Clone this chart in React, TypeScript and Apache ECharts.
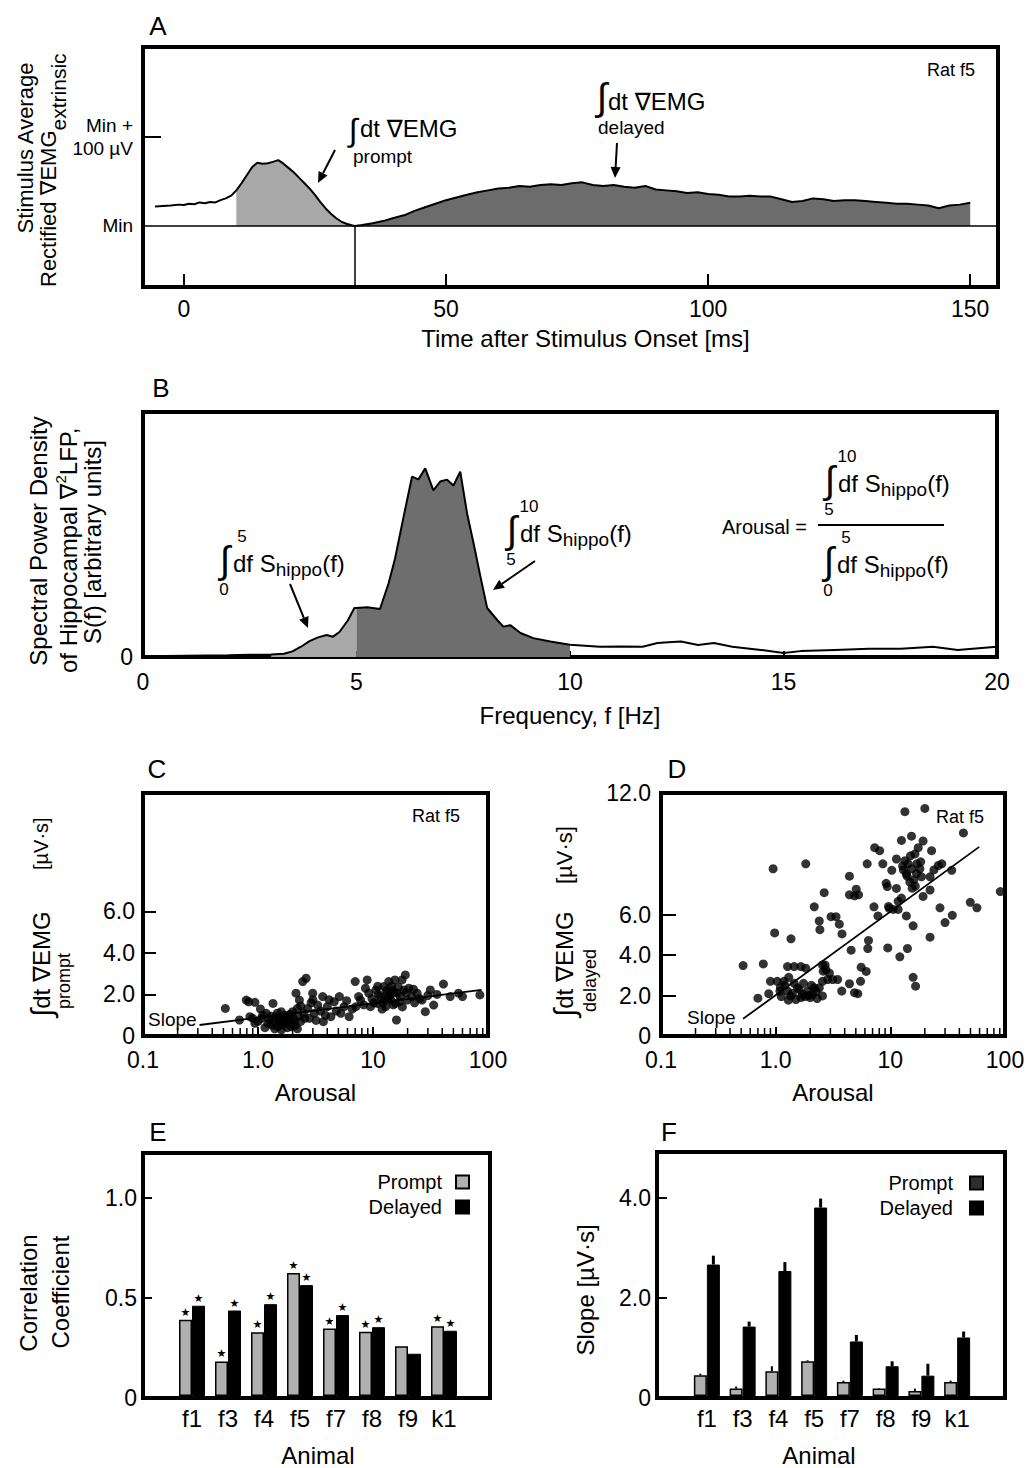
import React, { useEffect, useRef } from "react";
import * as echarts from "echarts";

const FONT = "'Liberation Sans', Arial, Helvetica, 'DejaVu Sans', sans-serif";

// ---------- Panel A: stimulus-averaged rectified EMG (value above Min, µV) ----------
const emgTrace: number[][] = [
  [-5.5, 22], [-4, 22.5], [-2.5, 23], [-1, 24], [0, 23.5], [1, 25], [2, 24.5], [3, 26.5], [4, 25.5],
  [5, 27], [6, 26.5], [7, 29], [8, 31], [9, 34], [10, 40], [11, 48], [12, 57], [13, 66], [14, 71],
  [15, 70], [16, 70.5], [17, 72], [18, 74], [19, 70], [20, 65], [21, 60], [22, 54], [23, 48], [24, 42],
  [25, 35], [26, 27], [27, 20], [28, 14], [29, 9], [30, 5], [31, 2.5], [32, 0.8], [32.6, 0],
  [34, 1], [36, 3], [38, 5.5], [40, 9], [42, 12], [44, 17], [46, 21], [48, 25], [50, 29], [52, 32],
  [54, 35], [56, 38], [58, 40], [60, 42], [62, 43], [64, 45], [66, 44], [68, 46], [70, 47], [72, 46],
  [74, 48], [76, 49], [78, 46], [80, 45], [82, 46], [84, 44], [86, 43], [88, 45], [90, 41], [92, 40],
  [94, 39], [96, 37], [98, 38], [100, 36], [102, 35], [104, 33], [106, 33], [108, 34], [110, 33], [112, 33],
  [114, 30], [116, 27], [118, 28], [120, 31], [122, 30], [124, 28], [126, 29], [128, 29], [130, 28], [132, 27],
  [134, 26], [136, 25], [138, 25], [140, 24], [142, 23], [144, 20], [146, 23], [148, 24], [150, 26],
];
const promptWindow = [10, 32.6];
const delayedWindow = [32.6, 150];
const emgMinTime = 32.6;
const timeTicks = [0, 50, 100, 150];
const emgLabelValues = [0, 100];

// ---------- Panel B: hippocampal spectral power density ----------
const psdTrace: number[][] = [
  [0, 0.3], [0.5, 0.4], [1, 0.5], [1.5, 0.6], [2, 0.7], [2.5, 0.9], [3, 1.0], [3.3, 1.3], [3.5, 2.3],
  [3.7, 4.2], [3.9, 6.5], [4.1, 8.0], [4.3, 9.0], [4.45, 8.3], [4.6, 10.2], [4.8, 15], [4.95, 20], [5.0, 20],
  [5.25, 20.3], [5.55, 19.6], [5.75, 30], [5.9, 40], [6.1, 57], [6.3, 73.6], [6.45, 72.5], [6.61, 77],
  [6.8, 68], [6.96, 71.6], [7.12, 72.4], [7.27, 70], [7.43, 75.6], [7.59, 58.6], [7.74, 46.5], [7.9, 33],
  [8.06, 20], [8.3, 15], [8.44, 12.4], [8.6, 13], [8.84, 9.8], [9.14, 7.7], [9.54, 6.3], [10.0, 5.0],
  [10.7, 4.2], [11.2, 4.3], [11.7, 4.2], [12.05, 5.7], [12.3, 6.0], [12.6, 6.3], [13.0, 4.9], [13.37, 5.7],
  [13.8, 4.2], [14.47, 2.9], [15.0, 1.6], [15.4, 2.4], [16.2, 2.9], [17.0, 3.4], [17.75, 3.4], [18.5, 4.2],
  [19.08, 2.9], [19.5, 3.5], [20, 4.2],
];
const lowBand = [3.0, 5];
const thetaBand = [5, 10];
const freqTicks = 5;

// ---------- Panel C: prompt EMG vs arousal ----------
const promptPoints: number[][] = [
  [0.52, 1.33], [0.69, 0.77], [0.79, 1.73], [0.83, 1.65], [0.94, 1.62], [0.85, 0.93], [0.94, 0.61], [0.9, 0.85],
  [1.0, 0.7], [1.07, 0.85], [1.1, 1.0], [1.18, 1.09], [1.22, 0.61], [1.25, 0.8], [1.3, 0.95], [1.35, 1.57],
  [1.32, 0.53], [1.38, 0.7], [1.4, 0.35], [1.44, 0.93], [1.47, 1.1], [1.49, 0.45], [1.52, 0.7], [1.55, 0.9],
  [1.59, 1.17], [1.62, 0.55], [1.64, 0.69], [1.68, 0.8], [1.72, 1.0], [1.76, 0.61], [1.8, 0.4], [1.82, 0.93],
  [1.86, 0.75], [1.9, 1.05], [1.94, 0.45], [1.97, 0.6], [2.0, 1.17], [2.03, 0.85], [2.07, 0.69], [2.1, 0.5],
  [2.14, 2.06], [2.2, 1.33], [2.25, 0.95], [2.29, 1.73], [2.35, 0.7], [2.45, 2.62], [2.5, 1.1], [2.55, 0.85],
  [2.62, 2.78], [2.7, 1.33], [2.8, 0.85], [2.9, 1.6], [2.99, 2.06], [3.09, 1.09], [3.2, 0.75], [3.3, 1.49],
  [3.5, 1.2], [3.65, 1.9], [3.7, 0.69], [3.85, 1.0], [4.0, 1.41], [4.15, 1.75], [4.3, 0.93], [4.6, 1.65],
  [4.8, 1.2], [5.1, 1.9], [5.25, 1.09], [5.6, 1.41], [5.9, 1.7], [6.2, 0.93], [6.6, 1.3], [7.0, 2.62],
  [7.1, 1.41], [7.5, 1.9], [7.8, 1.73], [8.3, 1.5], [8.9, 2.7], [9.2, 2.06], [9.5, 1.41], [9.8, 1.8],
  [10.2, 1.6], [10.6, 2.22], [10.9, 1.57], [11.2, 2.0], [11.6, 1.9], [12.0, 1.3], [12.4, 2.38], [12.7, 1.75],
  [12.9, 1.41], [13.1, 2.2], [13.3, 2.06], [13.5, 1.8], [13.7, 2.62], [14.0, 1.95], [14.3, 1.73], [14.5, 2.4],
  [14.7, 2.22], [15.0, 1.5], [15.3, 2.1], [15.7, 1.57], [16.0, 0.77], [16.2, 2.06], [16.6, 2.35], [17.0, 1.65],
  [17.3, 1.9], [17.9, 2.7], [18.6, 2.22], [19.1, 2.94], [19.4, 2.1], [19.8, 1.73], [20.5, 2.3], [21.8, 1.9],
  [23.0, 1.6], [24.2, 2.06], [25.5, 1.8], [26.7, 1.73], [28.5, 1.17], [30.0, 1.95], [31.5, 2.22], [33.7, 1.49],
  [36.0, 2.0], [41, 2.5], [46.9, 1.9], [55.4, 2.06], [60, 1.9], [85, 1.98], [1.15, 0.4], [1.6, 0.3],
  [2.2, 0.35], [1.05, 1.3], [2.35, 1.45], [8.6, 2.3], [11.0, 2.4], [15.5, 2.7], [18.0, 1.4], [22.5, 2.25],
  [3.0, 1.75], [12.2, 1.6],
];
const promptFit: number[][] = [[0.31, 0.53], [88, 2.22]];

// ---------- Panel D: delayed EMG vs arousal ----------
const delayedPoints: number[][] = [
  [0.52, 3.48], [0.78, 3.56], [0.70, 1.87], [0.87, 2.09], [0.95, 8.26], [0.98, 5.09], [0.9, 2.7], [1.03, 2.7],
  [1.1, 2.4], [1.18, 2.7], [1.09, 2.22], [1.27, 2.22], [1.35, 1.98], [1.29, 1.77], [1.36, 4.8], [1.27, 3.43],
  [1.45, 3.43], [1.66, 3.43], [1.83, 3.35], [1.55, 2.38], [1.71, 2.06], [1.66, 1.9], [1.9, 2.22], [2.0, 1.9],
  [2.17, 2.38], [2.1, 2.06], [2.4, 2.38], [2.56, 1.98], [2.56, 2.7], [1.83, 8.5], [2.17, 6.38], [2.4, 5.68],
  [2.43, 5.25], [2.65, 7.08], [2.56, 3.51], [2.74, 3.27], [2.94, 3.11], [2.84, 2.79], [3.14, 2.79], [3.47, 2.79],
  [3.04, 5.89], [3.36, 5.89], [3.59, 5.52], [3.79, 5.04], [3.77, 2.22], [4.4, 7.89], [4.4, 6.97], [4.87, 6.92],
  [5.28, 6.97], [5.04, 7.25], [4.55, 4.24], [4.4, 2.58], [4.87, 2.14], [5.2, 2.09], [5.5, 2.7], [5.57, 3.4],
  [6.16, 3.19], [6.28, 8.5], [6.36, 4.32], [6.45, 4.72], [7.2, 6.38], [7.3, 9.3], [8.07, 9.15], [7.8, 5.93],
  [8.6, 8.5], [9.2, 7.54], [9.4, 7.38], [9.65, 6.4], [10.6, 6.25], [11.7, 6.25], [9.5, 4.35], [10.3, 8.18],
  [11.3, 8.74], [11.3, 7.29], [11.7, 6.65], [12.5, 6.81], [12.1, 3.91], [12.5, 9.66], [13.4, 11.08], [13.4, 8.66],
  [13.8, 5.93], [14.1, 4.32], [14.3, 8.5], [15.3, 8.26], [15.3, 9.87], [15.8, 2.9], [15.8, 5.44], [16.6, 2.46],
  [16.4, 8.99], [16.9, 8.02], [18.1, 8.26], [18.7, 7.86], [19.3, 9.63], [20.0, 11.24], [19.3, 6.89], [22.9, 9.15],
  [22.2, 7.86], [22.2, 7.21], [22.2, 4.88], [26.2, 8.42], [28.1, 8.5], [27.1, 6.33], [30, 5.6], [34.3, 8.18],
  [34.7, 5.96], [43.4, 10.03], [49.8, 6.6], [56.9, 6.33], [91, 7.13], [1.2, 2.5], [1.4, 2.1], [1.5, 1.8],
  [1.6, 2.3], [1.75, 2.6], [1.95, 2.0], [2.05, 2.5], [2.25, 2.2], [1.3, 2.9], [1.45, 2.6], [2.3, 1.85],
  [2.7, 3.5], [2.6, 3.2], [1.12, 1.95], [1.8, 1.95], [13.0, 8.2], [14.0, 7.9], [14.8, 7.6], [15.0, 8.9],
  [16.0, 7.7], [17.0, 8.5], [17.5, 9.3], [16.5, 7.4], [13.8, 8.0], [12.8, 8.4], [18.4, 8.6], [15.5, 7.3],
  [9.8, 6.3], [24, 8.2],
];
const delayedFit: number[][] = [[0.52, 0.85], [59.6, 9.34]];
const logMinorTicks = [0.2, 0.3, 0.4, 0.5, 0.6, 0.7, 0.8, 0.9, 2, 3, 4, 5, 6, 7, 8, 9, 20, 30, 40, 50, 60, 70, 80, 90];

// ---------- Panel E: correlation coefficients ----------
const animals = ["f1", "f3", "f4", "f5", "f7", "f8", "f9", "k1"];
const corrPrompt = [0.385, 0.174, 0.322, 0.62, 0.34, 0.324, 0.251, 0.352];
const corrDelayed = [0.455, 0.431, 0.463, 0.559, 0.408, 0.347, 0.213, 0.329];
const corrPromptSig = [true, true, true, true, true, true, false, true];
const corrDelayedSig = [true, true, true, true, true, true, false, true];

// ---------- Panel F: slopes ----------
const slopePrompt = [0.42, 0.15, 0.5, 0.7, 0.28, 0.15, 0.1, 0.28];
const slopePromptErr = [0.03, 0.04, 0.1, 0.02, 0.03, 0.01, 0.05, 0.03];
const slopeDelayed = [2.65, 1.4, 2.52, 3.8, 1.1, 0.6, 0.41, 1.18];
const slopeDelayedErr = [0.18, 0.1, 0.18, 0.18, 0.13, 0.1, 0.24, 0.12];

// ---------- helpers ----------
const seg = (trace: number[][], lo: number, hi: number) => trace.filter((p) => p[0] >= lo && p[0] <= hi);

const t = (x: number, y: number, text: string, size: number, align = "left", extra: any = {}) => ({
  type: "text",
  x,
  y,
  silent: true,
  z: 20,
  style: { text, fontSize: size, fontFamily: FONT, fill: "#000", align, verticalAlign: "middle", ...extra },
});

const rot = (x: number, y: number, children: any[]) => ({ type: "group", x, y, rotation: Math.PI / 2, children, z: 20 });

const arrow = (x1: number, y1: number, x2: number, y2: number) => {
  const a = Math.atan2(y2 - y1, x2 - x1);
  const hl = 11, hw = 5;
  const bx = x2 - hl * Math.cos(a), by = y2 - hl * Math.sin(a);
  const px = -Math.sin(a) * hw, py = Math.cos(a) * hw;
  return {
    type: "group",
    z: 20,
    children: [
      { type: "line", silent: true, shape: { x1, y1, x2: bx, y2: by }, style: { stroke: "#000", lineWidth: 2 } },
      { type: "polygon", silent: true, shape: { points: [[x2, y2], [bx + px, by + py], [bx - px, by - py]] }, style: { fill: "#000" } },
    ],
  };
};

const shippo = (x0: number, y0: number, up: string, low: string) => [
  t(x0 - 8, y0 - 3, "∫", 38, "center"),
  t(x0 + 9, y0 - 27, up, 17, "center"),
  t(x0 - 9, y0 + 26, low, 17, "center"),
  t(x0, y0, "{m|df S}{s|hippo}{m|(f)}", 24, "left", {
    rich: {
      m: { fontSize: 24, lineHeight: 32, fontFamily: FONT },
      s: { fontSize: 19, lineHeight: 19, verticalAlign: "bottom", fontFamily: FONT },
    },
  }),
];

const tickLabel = { color: "#000", fontFamily: FONT, fontSize: 23 };
const nameStyle = { color: "#000", fontFamily: FONT, fontSize: 24 };
const noSplit = { show: false };
const noLine = { show: false, onZero: false };
const tickStyle = { color: "#000", width: 2 };
const frame = { show: true, borderColor: "#000", borderWidth: 4, backgroundColor: "transparent" };
const logLabel = (v: number) => {
  const e = Math.round(Math.log10(v));
  return e === -1 ? "0.1" : e === 0 ? "1.0" : e === 1 ? "10" : "100";
};
const decLabel = (v: number) => (v === 0 ? "0" : v.toFixed(1));

const minorTickSeries = (axis: number) => ({
  type: "custom",
  name: "minor" + axis,
  xAxisIndex: axis,
  yAxisIndex: axis,
  silent: true,
  z: 6,
  data: logMinorTicks.map((v) => [v, 0]),
  renderItem: (_p: any, api: any) => {
    const c = api.coord([api.value(0), 0]);
    return { type: "line", shape: { x1: c[0], y1: c[1] - 2, x2: c[0], y2: c[1] - 8 }, style: { stroke: "#000", lineWidth: 1.5 } };
  },
});

const errSeries = (name: string, vals: number[], errs: number[], offset: number, width: number) => ({
  type: "custom",
  name,
  xAxisIndex: 7,
  yAxisIndex: 7,
  silent: true,
  z: 6,
  data: vals.map((v, i) => [i, v, errs[i]]),
  renderItem: (_p: any, api: any) => {
    const i = api.value(0), v = api.value(1), e = api.value(2);
    const p0 = api.coord([i, v]);
    const p1 = api.coord([i, v + e]);
    const x = p0[0] + offset;
    return { type: "line", shape: { x1: x, y1: p0[1], x2: x, y2: p1[1] }, style: { stroke: "#000", lineWidth: width } };
  },
});

const starLabel = (sig: boolean[]) => ({
  show: true,
  position: "top",
  distance: 2,
  fontSize: 11,
  color: "#000",
  fontFamily: "'DejaVu Sans', sans-serif",
  formatter: (p: any) => (sig[p.dataIndex] ? "★" : ""),
});

function buildOption(): any {
  const lineOnly = (name: string, x: number, data: number[][], width = 2) => ({
    type: "line",
    name,
    xAxisIndex: x,
    yAxisIndex: x,
    data,
    symbol: "none",
    lineStyle: { color: "#000", width },
    z: 4,
  });
  const area = (name: string, x: number, data: number[][], color: string) => ({
    type: "line",
    name,
    xAxisIndex: x,
    yAxisIndex: x,
    data,
    symbol: "none",
    lineStyle: { width: 0, color },
    areaStyle: { color, opacity: 1 },
    z: 2,
  });

  return {
    animation: false,
    backgroundColor: "#fff",
    grid: [
      { left: 143, top: 47, width: 855, height: 240, ...frame },
      { left: 143, top: 412, width: 854, height: 245, ...frame },
      { left: 143, top: 793, width: 345, height: 243, ...frame },
      { left: 661, top: 793, width: 344, height: 243, ...frame },
      { left: 143, top: 1153, width: 347, height: 245, ...frame },
      { left: 174, top: 1153, width: 288, height: 245, show: false },
      { left: 657, top: 1152, width: 348, height: 246, ...frame },
      { left: 689, top: 1152, width: 286, height: 246, show: false },
    ],
    xAxis: [
      {
        gridIndex: 0, type: "value", min: -7.8, max: 155.3, axisLine: noLine, splitLine: noSplit,
        axisTick: { show: true, inside: true, length: 13, customValues: timeTicks, lineStyle: tickStyle },
        axisLabel: { ...tickLabel, margin: 10, customValues: timeTicks },
        name: "Time after Stimulus Onset [ms]", nameLocation: "middle", nameGap: 39,
        nameTextStyle: { ...nameStyle, padding: [0, 0, 0, 30] },
      },
      {
        gridIndex: 1, type: "value", min: 0, max: 20, interval: freqTicks, axisLine: noLine, splitLine: noSplit,
        axisTick: { show: true, inside: true, length: 6, lineStyle: tickStyle },
        axisLabel: { ...tickLabel, margin: 13 },
        name: "Frequency, f [Hz]", nameLocation: "middle", nameGap: 46, nameTextStyle: nameStyle,
      },
      {
        gridIndex: 2, type: "log", logBase: 10, min: 0.1, max: 100, axisLine: noLine, splitLine: noSplit,
        minorTick: { show: false }, minorSplitLine: { show: false },
        axisTick: { show: true, inside: true, length: 9, lineStyle: tickStyle },
        axisLabel: { ...tickLabel, margin: 12, formatter: logLabel },
        name: "Arousal", nameLocation: "middle", nameGap: 44, nameTextStyle: nameStyle,
      },
      {
        gridIndex: 3, type: "log", logBase: 10, min: 0.1, max: 100, axisLine: noLine, splitLine: noSplit,
        minorTick: { show: false }, minorSplitLine: { show: false },
        axisTick: { show: true, inside: true, length: 9, lineStyle: tickStyle },
        axisLabel: { ...tickLabel, margin: 12, formatter: logLabel },
        name: "Arousal", nameLocation: "middle", nameGap: 44, nameTextStyle: nameStyle,
      },
      { gridIndex: 4, type: "value", show: false, min: 0, max: 1, axisLine: noLine },
      {
        gridIndex: 5, type: "category", data: animals, axisLine: noLine, axisTick: { show: false }, splitLine: noSplit,
        axisLabel: { ...tickLabel, fontSize: 24, margin: 10, interval: 0 },
        name: "Animal", nameLocation: "middle", nameGap: 47, nameTextStyle: nameStyle,
      },
      { gridIndex: 6, type: "value", show: false, min: 0, max: 1, axisLine: noLine },
      {
        gridIndex: 7, type: "category", data: animals, axisLine: noLine, axisTick: { show: false }, splitLine: noSplit,
        axisLabel: { ...tickLabel, fontSize: 24, margin: 10, interval: 0 },
        name: "Animal", nameLocation: "middle", nameGap: 47, nameTextStyle: { ...nameStyle, padding: [0, 26, 0, 0] },
      },
    ],
    yAxis: [
      {
        gridIndex: 0, type: "value", min: -68.5, max: 201, axisLine: noLine, splitLine: noSplit,
        axisTick: { show: true, inside: true, length: 18, customValues: [100], lineStyle: tickStyle },
        axisLabel: {
          color: "#000", fontFamily: FONT, fontSize: 19, lineHeight: 23, margin: 10, customValues: emgLabelValues,
          formatter: (v: number) => (v === 0 ? "Min" : "Min +\n100 µV"),
        },
      },
      {
        gridIndex: 1, type: "value", min: 0, max: 100, axisLine: noLine, splitLine: noSplit, axisTick: { show: false },
        axisLabel: { ...tickLabel, margin: 10, customValues: [0], formatter: () => "0" },
      },
      {
        gridIndex: 2, type: "value", min: 0, max: 11.7, axisLine: noLine, splitLine: noSplit,
        axisTick: { show: true, inside: true, length: 13, customValues: [2, 4, 6], lineStyle: tickStyle },
        axisLabel: { ...tickLabel, margin: 8, customValues: [0, 2, 4, 6], formatter: decLabel },
      },
      {
        gridIndex: 3, type: "value", min: 0, max: 12, axisLine: noLine, splitLine: noSplit,
        axisTick: { show: true, inside: true, length: 15, customValues: [2, 4, 6], lineStyle: tickStyle },
        axisLabel: { ...tickLabel, margin: 10, customValues: [0, 2, 4, 6, 12], formatter: decLabel },
      },
      {
        gridIndex: 4, type: "value", min: 0, max: 1.225, axisLine: noLine, splitLine: noSplit,
        axisTick: { show: true, inside: true, length: 9, customValues: [0.5, 1], lineStyle: tickStyle },
        axisLabel: { ...tickLabel, margin: 6, customValues: [0, 0.5, 1], formatter: decLabel },
      },
      { gridIndex: 5, type: "value", min: 0, max: 1.225, show: false, splitLine: noSplit, axisLine: noLine },
      {
        gridIndex: 6, type: "value", min: 0, max: 4.92, axisLine: noLine, splitLine: noSplit,
        axisTick: { show: true, inside: true, length: 10, customValues: [2, 4], lineStyle: tickStyle },
        axisLabel: { ...tickLabel, margin: 6, customValues: [0, 2, 4], formatter: decLabel },
      },
      { gridIndex: 7, type: "value", min: 0, max: 4.92, show: false, splitLine: noSplit, axisLine: noLine },
    ],
    legend: [
      {
        data: ["Prompt", "Delayed"], orient: "vertical", right: 556, top: 1167, align: "right",
        itemWidth: 13, itemHeight: 13, itemGap: 5, icon: "rect", selectedMode: false,
        textStyle: { color: "#000", fontFamily: FONT, fontSize: 20, padding: [0, 9, 0, 0] },
      },
      {
        data: [{ name: "Prompt", itemStyle: { color: "#2e2e2e", borderColor: "#000" } }, "Delayed"],
        orient: "vertical", right: 42, top: 1168, align: "right",
        itemWidth: 13, itemHeight: 13, itemGap: 5, icon: "rect", selectedMode: false,
        textStyle: { color: "#000", fontFamily: FONT, fontSize: 20, padding: [0, 12, 0, 0] },
      },
    ],
    series: [
      // A
      area("emgPromptArea", 0, seg(emgTrace, promptWindow[0], promptWindow[1]), "#a8a8a8"),
      area("emgDelayedArea", 0, seg(emgTrace, delayedWindow[0], delayedWindow[1]), "#6c6c6c"),
      {
        ...lineOnly("emg", 0, emgTrace),
        markLine: {
          silent: true,
          symbol: ["none", "none"],
          label: { show: false },
          lineStyle: { color: "#000", width: 1.5, type: "solid" },
          data: [{ yAxis: 0 }, [{ coord: [emgMinTime, 0] }, { coord: [emgMinTime, -68.5] }]],
        },
      },
      // B
      area("psdLowArea", 1, seg(psdTrace, lowBand[0], lowBand[1]), "#a8a8a8"),
      area("psdThetaArea", 1, seg(psdTrace, thetaBand[0], thetaBand[1]), "#6e6e6e"),
      lineOnly("psd", 1, psdTrace),
      // C
      { type: "scatter", name: "promptPts", xAxisIndex: 2, yAxisIndex: 2, data: promptPoints, symbolSize: 9, itemStyle: { color: "#000" }, z: 3 },
      lineOnly("promptFit", 2, promptFit, 1.8),
      minorTickSeries(2),
      // D
      { type: "scatter", name: "delayedPts", xAxisIndex: 3, yAxisIndex: 3, data: delayedPoints, symbolSize: 9, itemStyle: { color: "#000" }, z: 3 },
      lineOnly("delayedFit", 3, delayedFit, 1.8),
      minorTickSeries(3),
      // E
      {
        type: "bar", name: "Prompt", xAxisIndex: 5, yAxisIndex: 5, data: corrPrompt, barWidth: 13, barGap: "0%",
        itemStyle: { color: "#b0b0b0", borderColor: "#000", borderWidth: 1.5 }, label: starLabel(corrPromptSig),
      },
      {
        type: "bar", name: "Delayed", xAxisIndex: 5, yAxisIndex: 5, data: corrDelayed, barWidth: 13, barGap: "0%",
        itemStyle: { color: "#000", borderColor: "#000", borderWidth: 1 }, label: starLabel(corrDelayedSig),
      },
      // F
      {
        type: "bar", name: "Prompt", xAxisIndex: 7, yAxisIndex: 7, data: slopePrompt, barWidth: 13, barGap: "0%",
        itemStyle: { color: "#b0b0b0", borderColor: "#000", borderWidth: 1.5 },
      },
      {
        type: "bar", name: "Delayed", xAxisIndex: 7, yAxisIndex: 7, data: slopeDelayed, barWidth: 13, barGap: "0%",
        itemStyle: { color: "#000", borderColor: "#000", borderWidth: 1 },
      },
      errSeries("promptErr", slopePrompt, slopePromptErr, -6.5, 2),
      errSeries("delayedErr", slopeDelayed, slopeDelayedErr, 6.5, 3),
    ],
    graphic: [
      // panel letters
      t(158, 26, "A", 26, "center"),
      t(161, 388, "B", 26, "center"),
      t(157, 769, "C", 26, "center"),
      t(677, 769, "D", 26, "center"),
      t(158, 1132, "E", 26, "center"),
      t(669, 1132, "F", 26, "center"),
      // A annotations
      t(975, 70, "Rat f5", 18, "right"),
      t(353, 130, "∫", 32, "center"),
      t(360, 128, "dt ∇EMG", 24),
      t(353, 156, "prompt", 19),
      arrow(335, 150, 318, 183),
      t(602, 97, "∫", 38, "center"),
      t(608, 101, "dt ∇EMG", 24),
      t(598, 127, "delayed", 19),
      arrow(617, 143, 615, 178),
      // A y title
      rot(25, 148, [t(0, 0, "Stimulus Average", 22, "center")]),
      rot(48, 287, [
        t(0, 0, "{m|Rectified ∇EMG}{s|extrinsic}", 22, "left", {
          rich: {
            m: { fontSize: 22, lineHeight: 42, fontFamily: FONT },
            s: { fontSize: 21, lineHeight: 21, verticalAlign: "bottom", fontFamily: FONT },
          },
        }),
      ]),
      // B annotations
      ...shippo(233, 563, "5", "0"),
      arrow(290, 584, 308, 628),
      ...shippo(520, 533, "10", "5"),
      arrow(535, 561, 493, 590),
      t(722, 527, "Arousal =", 20),
      ...shippo(838, 483, "10", "5"),
      { type: "line", silent: true, z: 20, shape: { x1: 818, y1: 525, x2: 944, y2: 525 }, style: { stroke: "#000", lineWidth: 2 } },
      ...shippo(837, 564, "5", "0"),
      // B y title
      rot(38, 541, [t(0, 0, "Spectral Power Density", 24, "center")]),
      rot(68, 673, [
        t(0, 0, "{m|of Hippocampal ∇}{p|2}{m|LFP,}", 24, "left", {
          rich: {
            m: { fontSize: 24, lineHeight: 31, fontFamily: FONT },
            p: { fontSize: 15, lineHeight: 15, verticalAlign: "top", fontFamily: FONT },
          },
        }),
      ]),
      rot(92, 542, [t(0, 0, "S(f) [arbitrary units]", 24, "center")]),
      // C annotations and title
      t(412, 816, "Rat f5", 18),
      t(148, 1019, "Slope", 19),
      rot(41, 1017, [
        t(0, 0, "{i|∫}{m|dt ∇EMG}", 24, "left", {
          rich: { i: { fontSize: 30, lineHeight: 30, fontFamily: FONT }, m: { fontSize: 24, lineHeight: 30, fontFamily: FONT } },
        }),
        t(147, 0, "[µV·s]", 20),
        t(8, 23, "prompt", 18),
      ]),
      // D annotations and title
      t(936, 817, "Rat f5", 18),
      t(687, 1017, "Slope", 19),
      rot(564, 1017, [
        t(0, 0, "{i|∫}{m|dt ∇EMG}", 24, "left", {
          rich: { i: { fontSize: 30, lineHeight: 30, fontFamily: FONT }, m: { fontSize: 24, lineHeight: 30, fontFamily: FONT } },
        }),
        t(133, 0, "[µV·s]", 22),
        t(5, 26, "delayed", 18),
      ]),
      // E / F titles
      rot(28, 1293, [t(0, 0, "Correlation", 24, "center")]),
      rot(60, 1292, [t(0, 0, "Coefficient", 24, "center")]),
      rot(585, 1290, [t(0, 0, "Slope [µV·s]", 24, "center")]),
    ],
  };
}

export default function App() {
  const ref = useRef<HTMLDivElement>(null);
  useEffect(() => {
    const chart = echarts.init(ref.current as HTMLDivElement, null, { renderer: "svg" });
    chart.setOption(buildOption());
    return () => chart.dispose();
  }, []);
  return (
    <div
      ref={ref}
      style={{ position: "absolute", left: 0, top: 0, width: 1031, height: 1468, background: "#fff" }}
    />
  );
}
